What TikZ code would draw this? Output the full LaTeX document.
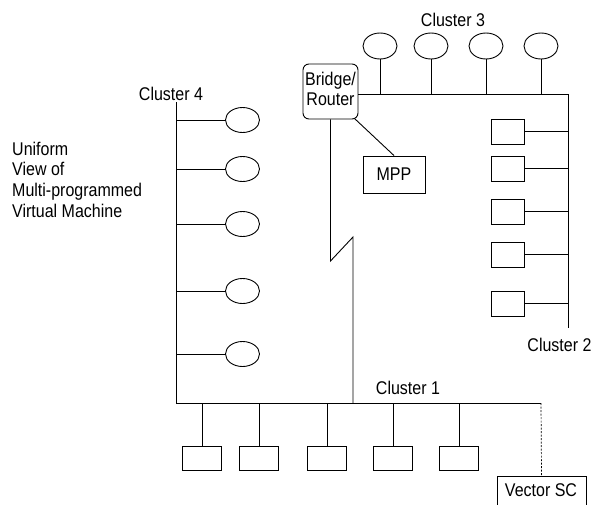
\documentclass[tikz,border=0pt]{standalone}
\usepackage{fontspec}
\setmainfont{Liberation Sans}
\usetikzlibrary{shapes.geometric}
\newcommand{\vtx}[1]{\scalebox{1}[1.15]{#1}}
\newcommand{\vtab}[2]{\scalebox{1}[1.15]{\begin{tabular}{@{}#1@{}}#2\end{tabular}}}
\begin{document}
\begin{tikzpicture}[x=1pt,y=-1pt,
  every node/.style={font=\fontsize{16}{18}\selectfont},
  line/.style={line width=0.9pt,black},
  wsnode/.style={draw,line width=0.9pt,ellipse,minimum width=34pt,minimum height=26pt,inner sep=0pt},
  pcbox/.style={draw,line width=0.9pt,rectangle,inner sep=0pt},
  lbl/.style={inner sep=0pt}]
\useasboundingbox (0,0) rectangle (594,504);
% Cluster 3
\node[lbl] (l3) at (453,20) {\vtx{Cluster 3}};
\foreach \i/\x in {1/380,2/431,3/486,4/541}{
  \node[wsnode] (e3\i) at (\x,46) {};
}
\node[draw,line width=0.9pt,rounded corners=6pt,minimum width=55pt,minimum height=55pt,inner sep=0pt] (bridge) at (330.5,91.5) {\vtab{c}{Bridge/\\Router}};
\coordinate (c3r) at (568,94);
\coordinate (c2end) at (568,328);
\draw[line] (bridge.east |- c3r) -- (c3r) -- (c2end);
\foreach \i in {1,2,3,4}{
  \draw[line] (e3\i.south) -- (e3\i.south |- c3r);
}
% Cluster 2
\node[lbl] (l2) at (559.5,345) {\vtx{Cluster 2}};
\foreach \i/\y in {1/131.5,2/168.5,3/211.5,4/254.5,5/303.5}{
  \node[pcbox,minimum width=33pt,minimum height=25pt] (b2\i) at (507.5,\y) {};
  \draw[line] (b2\i.east) -- (b2\i.east -| c3r);
}
% MPP
\node[pcbox,minimum width=62pt,minimum height=37pt] (mpp) at (394,174.5) {\vtx{MPP}};
\path (bridge.south east) ++(-4,-1) coordinate (bse);
\draw[line] (bse) -- (mpp.north);
% bridge down to cluster 1 with break
\coordinate (k1) at (bridge.south |- 0,261);
\coordinate (k2) at (353,237);
\coordinate (c1j) at (353,403);
\draw[line] (bridge.south) -- (k1) -- (k2) -- (c1j);
% Cluster 1 bus and cluster 4 bus
\coordinate (c1l) at (176,403);
\coordinate (c1r) at (541,403);
\coordinate (c4t) at (176,102);
\draw[line] (c4t) -- (c1l) -- (c1r);
\node[lbl] (l1) at (408,388) {\vtx{Cluster 1}};
\node[lbl] (l4) at (171,94) {\vtx{Cluster 4}};
% Cluster 1 boxes
\foreach \i/\x in {1/202,2/259,3/327,4/393,5/459}{
  \node[pcbox,minimum width=39pt,minimum height=24pt] (b1\i) at (\x,458) {};
  \draw[line] (b1\i.north) -- (b1\i.north |- c1l);
}
% Vector SC
\node[pcbox,minimum width=89pt,minimum height=34pt] (vsc) at (541.5,493) {};
\node[lbl] (vsct) at (541,490) {\vtx{Vector SC}};
\draw[line width=0.7pt,dash pattern=on 2pt off 1.5pt] (c1r) -- (vsc.north);
% Cluster 4 ellipses
\foreach \i/\y in {1/120,2/169,3/224,4/291,5/354}{
  \node[wsnode,minimum height=25pt] (e4\i) at (242.5,\y) {};
  \draw[line] (e4\i.west -| c4t) -- (e4\i.west);
}
% Text
\node[lbl,anchor=west] (uv) at (12,182) {\vtab{l}{Uniform\\View of\\Multi-programmed\\Virtual Machine}};
\end{tikzpicture}
\end{document}
